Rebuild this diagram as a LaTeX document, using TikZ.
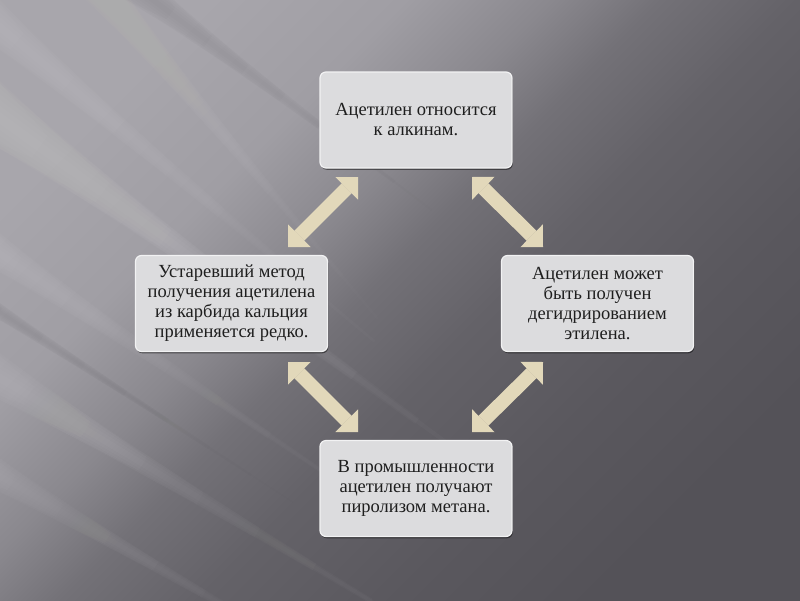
\documentclass[tikz,border=0pt]{standalone}
\usepackage{fontspec}
\setmainfont{Liberation Serif}
\usetikzlibrary{arrows.meta,shadows}
\definecolor{boxfill}{HTML}{DCDCDE}
\definecolor{boxline}{HTML}{F2F2F3}
\definecolor{arrowcol}{HTML}{E2D8BA}
\definecolor{txt}{HTML}{1E1E1E}
\definecolor{bg0}{HTML}{A8A6AC}
\definecolor{bg1}{HTML}{A09EA4}
\definecolor{bg2}{HTML}{8A888E}
\definecolor{bg3}{HTML}{737177}
\definecolor{bg4}{HTML}{646268}
\definecolor{bg5}{HTML}{5A585E}
\definecolor{bg6}{HTML}{545258}
\pgfdeclarehorizontalshading{bgdiag}{100bp}{color(0bp)=(bg0); color(25bp)=(bg0); color(35bp)=(bg1); color(42.5bp)=(bg2); color(48bp)=(bg3); color(55bp)=(bg4); color(65bp)=(bg5); color(75bp)=(bg6); color(100bp)=(bg6)}
\begin{document}
\begin{tikzpicture}[x=1pt,y=-1pt,
  infobox/.style={draw=boxline, line width=1.2pt, fill=boxfill, rounded corners=6pt,
    minimum width=192pt, minimum height=96pt, align=center, text=txt,
    font=\fontsize{18.5pt}{20pt}\selectfont, inner sep=2pt,
    drop shadow={shadow xshift=0.8pt, shadow yshift=-1.8pt, opacity=0.45, fill=black}},
  dblarrow/.style={draw=arrowcol, line width=14pt,
    {Triangle[width=32pt,length=16pt,line width=0pt]}-{Triangle[width=32pt,length=16pt,line width=0pt]}}
]
\useasboundingbox (0,0) rectangle (800,600);
\shade[shading=bgdiag, shading angle=-45] (0,0) rectangle (800,600);
\begin{scope}
\clip (0,0) rectangle (800,600);
\foreach \sx/\sy/\ang/\len/\w/\op/\col in {-80/60/-36/700/45/0.20/white, -80/-40/-40/600/35/0.14/white, -80/330/-31/600/35/0.16/white, -80/430/-30/500/28/0.12/white, -80/200/-34/550/30/0.12/white, 60/-60/-50/500/30/0.10/white, 100/-40/-37/420/25/0.07/black, -80/260/-33/450/15/0.05/black}
{
  \foreach \k in {1,...,8}{
    \pgfmathsetmacro\o{\op/8}
    \pgfmathsetmacro\hw{\w*\k/8}
    \pgfmathsetmacro\ln{\len*(1.1-\k/9)}
    \fill[\col, opacity=\o, rotate around={\ang:(\sx,\sy)}]
      (\sx,\sy-\hw) -- (\sx+\ln,\sy-\hw*0.3) -- (\sx+\ln,\sy+\hw*0.3) -- (\sx,\sy+\hw) -- cycle;
  }
}
\end{scope}

\node[infobox] (top) at (416,120) {Ацетилен относится\\к алкинам.};
\node[infobox] (left) at (231.5,303.5) {Устаревший метод\\получения ацетилена\\из карбида кальция\\применяется редко.};
\node[infobox] (right) at (597.5,303.5) {Ацетилен может\\быть получен\\дегидрированием\\этилена.};
\node[infobox] (bottom) at (416,488.5) {В промышленности\\ацетилен получают\\пиролизом метана.};

\coordinate (tl1) at (288,247);
\coordinate (tl2) at (358,177);
\coordinate (tr1) at (472,177);
\coordinate (tr2) at (543,247);
\coordinate (bl1) at (288,362);
\coordinate (bl2) at (358,432);
\coordinate (br1) at (472,432);
\coordinate (br2) at (543,362);
\draw[dblarrow] (tl1) -- (tl2);
\draw[dblarrow] (tr1) -- (tr2);
\draw[dblarrow] (bl1) -- (bl2);
\draw[dblarrow] (br1) -- (br2);
\end{tikzpicture}
\end{document}
